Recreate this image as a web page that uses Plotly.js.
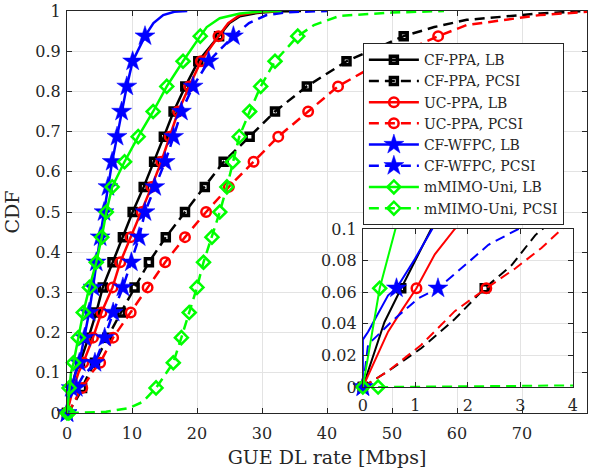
<!DOCTYPE html>
<html>
<head>
<meta charset="utf-8">
<script src="https://cdn.plot.ly/plotly-3.0.1.min.js"></script>
<style>
html,body{margin:0;padding:0;background:#ffffff;}
#chart{width:597px;height:473px;}
</style>
</head>
<body>
<div id="chart"></div>
<script>
// ---- Data (CDF level -> rate in Mbps) ----
const seriesNames = ['CF-PPA, LB','CF-PPA, PCSI','UC-PPA, LB','UC-PPA, PCSI','CF-WFPC, LB','CF-WFPC, PCSI','mMIMO-Uni, LB','mMIMO-Uni, PCSI'];

const cfPpaLbCdf  = [0, 0.022, 0.041, 0.0625, 0.1, 0.125, 0.1875, 0.25, 0.3125, 0.375, 0.4375, 0.5, 0.5625, 0.625, 0.6875, 0.75, 0.8125, 0.875, 0.9375, 0.97, 0.987, 0.995, 0.999, 1];
const cfPpaLbRate = [0, 0.22, 0.41, 0.73, 1.3, 2.0, 3.3, 4.5, 5.5, 7.0, 8.6, 10.1, 11.8, 13.4, 14.9, 16.4, 18.2, 20.2, 23.4, 25.0, 26.6, 29.2, 32, 36];

const cfPpaPcsiCdf  = [0, 0.01, 0.0245, 0.043, 0.0625, 0.077, 0.096, 0.125, 0.1875, 0.25, 0.3125, 0.375, 0.4375, 0.5, 0.5625, 0.625, 0.6875, 0.75, 0.8125, 0.875, 0.9375, 0.96, 0.978, 0.994, 1];
const cfPpaPcsiRate = [0, 0.48, 1.11, 1.75, 2.32, 2.83, 3.28, 4.3, 6.2, 8.3, 10.4, 12.6, 15.2, 18.15, 21.2, 24.1, 28.1, 32.0, 36.9, 43.0, 51.8, 56.5, 61.5, 72.8, 80];

const ucPpaLbCdf  = [0, 0.016, 0.035, 0.048, 0.0625, 0.084, 0.1, 0.125, 0.1875, 0.25, 0.3125, 0.375, 0.4375, 0.5, 0.5625, 0.625, 0.6875, 0.75, 0.8125, 0.875, 0.9375, 0.97, 0.99, 0.997, 1];
const ucPpaLbRate = [0, 0.22, 0.48, 0.73, 1.02, 1.37, 1.75, 2.5, 4.0, 5.3, 7.0, 8.2, 9.8, 11.5, 13.0, 14.5, 15.8, 17.1, 18.8, 20.6, 23.3, 24.8, 26.6, 29, 33];

const ucPpaPcsiCdf  = [0, 0.01, 0.0266, 0.048, 0.0625, 0.075, 0.088, 0.1, 0.125, 0.1875, 0.25, 0.3125, 0.375, 0.4375, 0.5, 0.5625, 0.625, 0.6875, 0.75, 0.8125, 0.875, 0.9375, 0.965, 0.99, 0.998];
const ucPpaPcsiRate = [0, 0.48, 1.11, 1.75, 2.35, 2.9, 3.4, 3.79, 5.1, 7.1, 9.8, 12.4, 15.1, 18.15, 21.4, 24.9, 28.7, 32.5, 37.1, 41.7, 48.5, 57.1, 61.5, 72.8, 80];

const cfWfpcLbCdf  = [0, 0.03, 0.035, 0.048, 0.058, 0.0625, 0.081, 0.1, 0.125, 0.1875, 0.25, 0.3125, 0.375, 0.4375, 0.5, 0.5625, 0.625, 0.6875, 0.75, 0.8125, 0.875, 0.9375, 0.97, 0.99, 0.998, 1];
const cfWfpcLbRate = [0, 0, 0.1, 0.32, 0.48, 0.64, 0.99, 1.32, 1.9, 2.7, 3.4, 4.0, 4.5, 5.1, 5.7, 6.3, 6.95, 7.7, 8.4, 9.2, 10.1, 12.0, 13.3, 14.8, 16.5, 18.5];

const cfWfpcPcsiCdf  = [0, 0.027, 0.033, 0.043, 0.056, 0.0625, 0.077, 0.09, 0.1, 0.125, 0.1875, 0.25, 0.3125, 0.375, 0.4375, 0.5, 0.5625, 0.625, 0.6875, 0.75, 0.8125, 0.875, 0.9375, 0.97, 0.99, 0.997, 1];
const cfWfpcPcsiRate = [0, 0.1, 0.29, 0.6, 1.05, 1.43, 1.94, 2.39, 2.96, 4.3, 5.8, 7.1, 8.6, 9.9, 11.1, 12.0, 13.5, 15.1, 16.4, 17.6, 19.4, 21.8, 25.6, 28.0, 30.7, 34, 40];

const mmimoLbCdf  = [0, 0.03, 0.0625, 0.1, 0.125, 0.1875, 0.25, 0.3125, 0.375, 0.4375, 0.5, 0.5625, 0.625, 0.6875, 0.75, 0.8125, 0.875, 0.9375, 0.96, 0.982, 0.994, 0.999, 1];
const mmimoLbRate = [0, 0.16, 0.32, 0.62, 1.0, 1.74, 2.5, 3.45, 4.5, 5.35, 6.05, 6.95, 8.85, 10.95, 13.25, 15.35, 17.85, 20.5, 21.5, 23.5, 26.6, 30, 33];

const mmimoPcsiCdf  = [0, 0.001, 0.003, 0.012, 0.028, 0.0625, 0.125, 0.1875, 0.25, 0.3125, 0.375, 0.4375, 0.5, 0.5625, 0.625, 0.6875, 0.75, 0.8125, 0.875, 0.9375, 0.965, 0.988, 0.996, 1];
const mmimoPcsiRate = [0.29, 4, 6, 9.5, 11.7, 13.7, 16.35, 17.6, 18.8, 20.0, 21.0, 22.3, 23.5, 24.6, 25.5, 26.5, 28.1, 29.8, 32.0, 35.5, 38, 42, 50, 58];

const xTicksMain = [0, 10, 20, 30, 40, 50, 60, 70, 80];
const yTicksMain = [0, 0.1, 0.2, 0.3, 0.4, 0.5, 0.6, 0.7, 0.8, 0.9, 1];
const xTicksInset = [0, 1, 2, 3, 4];
const yTicksInset = [0, 0.02, 0.04, 0.06, 0.08, 0.1];

// ---- Build ----
const seriesData = [
  [cfPpaLbCdf, cfPpaLbRate],
  [cfPpaPcsiCdf, cfPpaPcsiRate],
  [ucPpaLbCdf, ucPpaLbRate],
  [ucPpaPcsiCdf, ucPpaPcsiRate],
  [cfWfpcLbCdf, cfWfpcLbRate],
  [cfWfpcPcsiCdf, cfWfpcPcsiRate],
  [mmimoLbCdf, mmimoLbRate],
  [mmimoPcsiCdf, mmimoPcsiRate]
];
const DASH = '10px,6px';
const styles = [
  {color:'#000000', dash:'solid', symbol:'square-open',  size:7,   mlw:3.5},
  {color:'#000000', dash:DASH,    symbol:'square-open',  size:7,   mlw:3.5},
  {color:'#ff0000', dash:'solid', symbol:'circle-open',  size:9.5, mlw:2.5},
  {color:'#ff0000', dash:DASH,    symbol:'circle-open',  size:9.5, mlw:2.5},
  {color:'#0000ff', dash:'solid', symbol:'star',         size:15,  mlw:0.5},
  {color:'#0000ff', dash:DASH,    symbol:'star',         size:15,  mlw:0.5},
  {color:'#00ff00', dash:'solid', symbol:'diamond-open', size:10,  mlw:2.5},
  {color:'#00ff00', dash:DASH,    symbol:'diamond-open', size:10,  mlw:2.5}
];

function isMarkerLevel(c){ const k = c*16; return Math.abs(k-Math.round(k))<1e-9 && c<1; }

const traces = [];
// legend entries
seriesData.forEach((d,i)=>{
  const s = styles[i];
  traces.push({
    type:'scatter', mode:'lines+markers', name:seriesNames[i],
    x:[null], y:[null], showlegend:true, hoverinfo:'skip',
    line:{color:s.color, width:2.5, dash:s.dash},
    marker:{symbol:s.symbol, size:s.size, color:s.color, line:{color:s.color, width:s.mlw}}
  });
});
function addSet(xa, ya, lw){
  seriesData.forEach((d,i)=>{
    const s = styles[i];
    const cdf = d[0], rate = d[1];
    traces.push({
      type:'scatter', mode:'lines', x:rate, y:cdf, xaxis:xa, yaxis:ya,
      showlegend:false, hoverinfo:'skip',
      line:{color:s.color, width:lw, dash:s.dash}
    });
    const mx=[], my=[];
    cdf.forEach((c,j)=>{ if(isMarkerLevel(c)){ mx.push(rate[j]); my.push(c);} });
    traces.push({
      type:'scatter', mode:'markers', x:mx, y:my, xaxis:xa, yaxis:ya,
      showlegend:false, hoverinfo:'skip', cliponaxis:false,
      marker:{symbol:s.symbol, size:s.size, color:s.color, line:{color:s.color, width:s.mlw}}
    });
  });
}
addSet('x','y',2.5);
addSet('x2','y2',2);

const FONT = 'DejaVu Serif';
const TXT = '#262626';
const axCommon = {
  ticks:'inside', ticklen:5, tickwidth:1, tickcolor:TXT,
  showline:true, linecolor:TXT, linewidth:1, mirror:'ticks',
  showgrid:true, gridcolor:'#e3e3e3', gridwidth:1, zeroline:false,
  tickfont:{family:FONT, size:16, color:TXT}, fixedrange:true
};

const layout = {
  width:597, height:473,
  margin:{l:67, r:10, t:11, b:60},
  paper_bgcolor:'#ffffff', plot_bgcolor:'#ffffff',
  font:{family:FONT, color:TXT},
  showlegend:true,
  legend:{
    x:0.569, y:0.920, xanchor:'left', yanchor:'top',
    bgcolor:'#ffffff', bordercolor:TXT, borderwidth:1,
    font:{family:FONT, size:14, color:TXT},
    itemwidth:50, tracegroupgap:0
  },
  xaxis:Object.assign({}, axCommon, {
    range:[0,80], tickvals:xTicksMain, domain:[0,1], ticklabelstandoff:6,
    title:{text:'GUE DL rate [Mbps]', font:{family:FONT, size:19, color:TXT}, standoff:8}
  }),
  yaxis:Object.assign({}, axCommon, {
    range:[0,1], tickvals:yTicksMain, domain:[0,1], ticklabelstandoff:2,
    title:{text:'CDF', font:{family:FONT, size:19, color:TXT}, standoff:10}
  }),
  xaxis2:Object.assign({}, axCommon, {
    range:[0,4], tickvals:xTicksInset, domain:[0.569,0.973], anchor:'y2', ticklabelstandoff:4
  }),
  yaxis2:Object.assign({}, axCommon, {
    range:[0,0.1], tickvals:yTicksInset, domain:[0.0647,0.4577], anchor:'x2', ticklabelstandoff:2
  })
};

Plotly.newPlot('chart', traces, layout, {displayModeBar:false, staticPlot:true});
</script>
</body>
</html>
